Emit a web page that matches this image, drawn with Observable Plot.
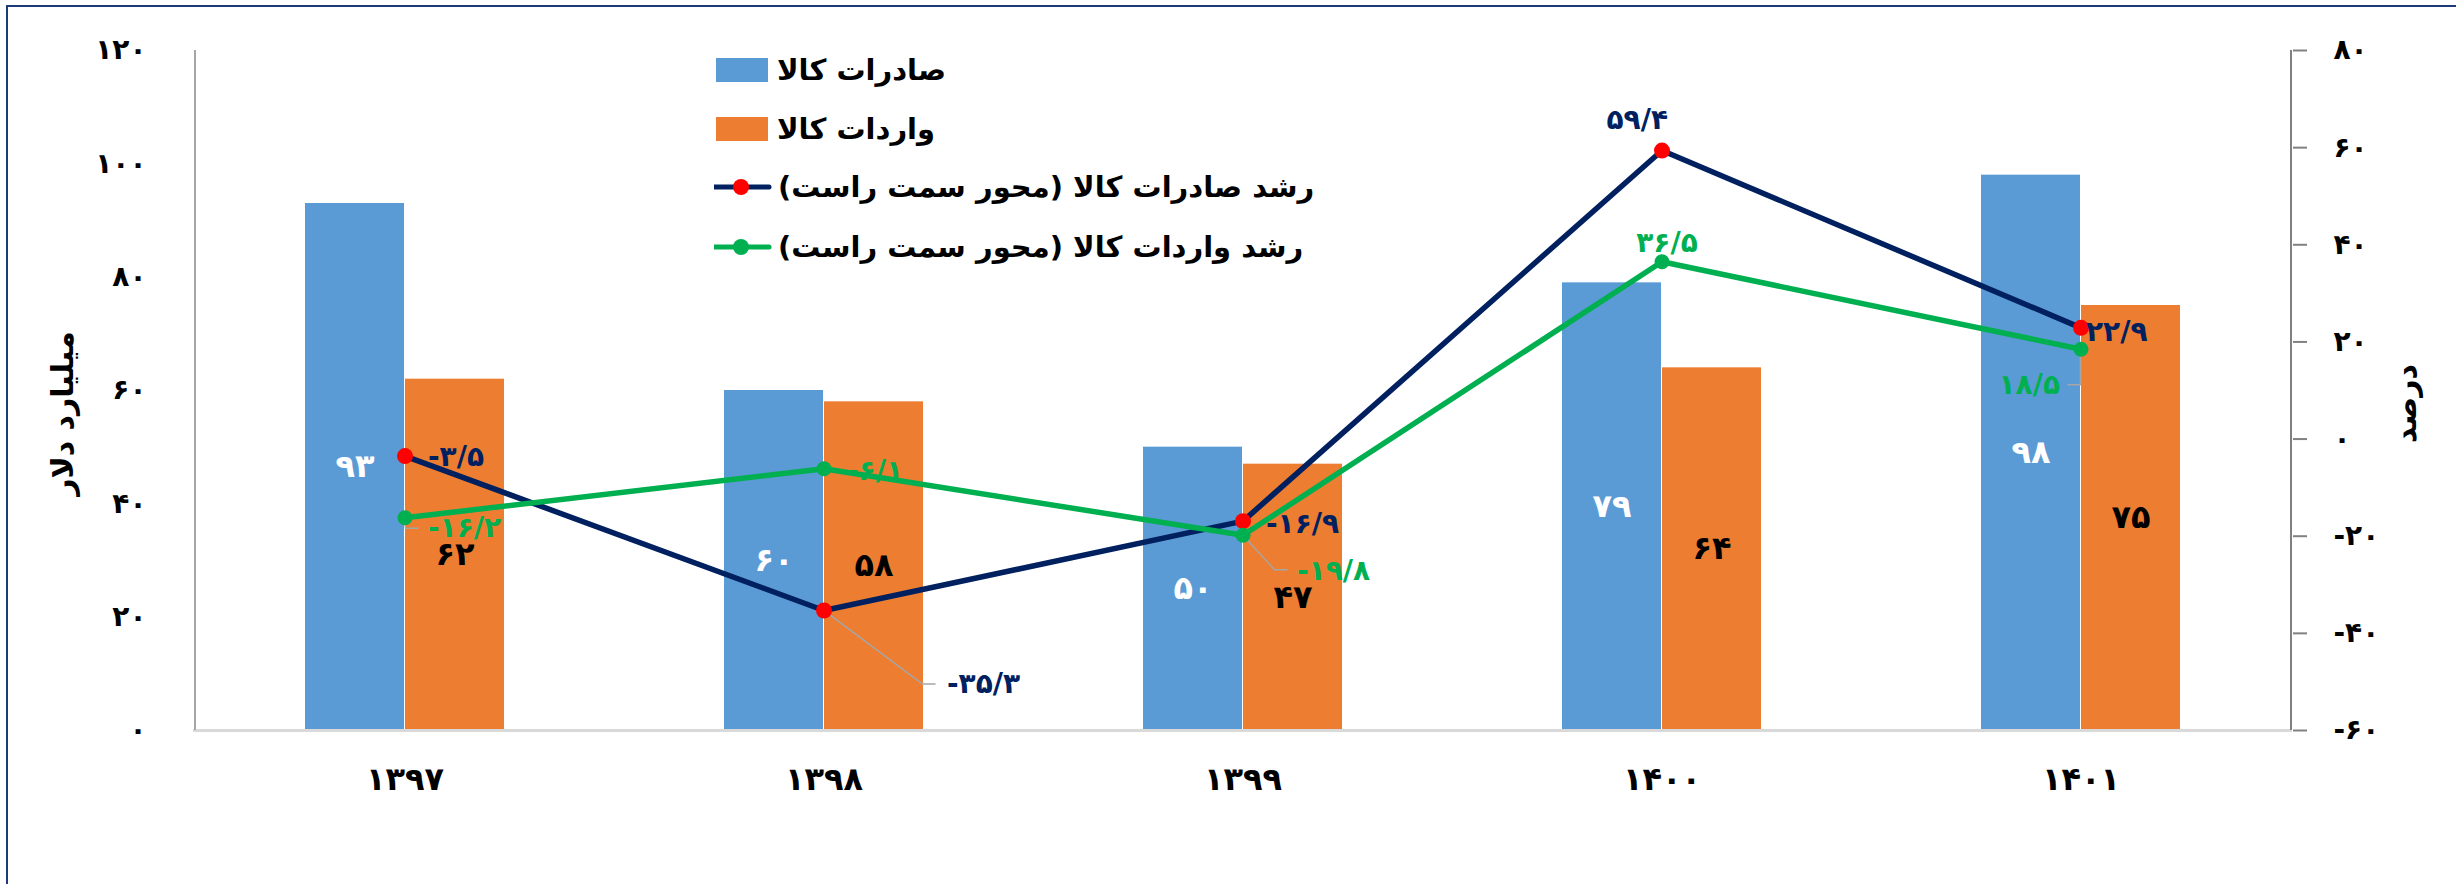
<!DOCTYPE html>
<html>
<head>
<meta charset="utf-8">
<script src="https://cdn.jsdelivr.net/npm/d3@7"></script>
<script src="https://cdn.jsdelivr.net/npm/@observablehq/plot@0.6"></script>
<style>
  html, body { margin: 0; padding: 0; background: #fff; }
  #wrap { position: relative; width: 2456px; height: 884px; overflow: hidden; font-family: "DejaVu Sans", sans-serif; }
  #frame { position: absolute; left: 6px; top: 5px; width: 2600px; height: 1000px; border: 2px solid #1f3a7a; box-sizing: border-box; pointer-events: none; }
  #chart { position: absolute; left: 0; top: 0; }
  .lg { position: absolute; display: flex; align-items: center; height: 40px; }
  .lg span { font-weight: bold; font-size: 29px; color: #000; white-space: nowrap; }
  g[aria-label="x-axis tick label"] text { letter-spacing: 3px; }
</style>
</head>
<body>
<div id="wrap">
  <div id="chart"></div>
  <div id="legend"></div>
  <div id="frame"></div>
</div>
<script>
// ---------- data ----------
const years = ["۱۳۹۷", "۱۳۹۸", "۱۳۹۹", "۱۴۰۰", "۱۴۰۱"];
const exportsValue = [93, 60, 50, 79, 98];          // میلیارد دلار
const importsValue = [62, 58, 47, 64, 75];          // میلیارد دلار
const exportGrowth = [-3.5, -35.3, -16.9, 59.4, 22.9]; // درصد
const importGrowth = [-16.2, -6.1, -19.8, 36.5, 18.5]; // درصد
const leftTicks = [0, 20, 40, 60, 80, 100, 120];
const rightTicks = [-60, -40, -20, 0, 20, 40, 60, 80];
const seriesNames = ["صادرات کالا", "واردات کالا", "رشد صادرات کالا (محور سمت راست)", "رشد واردات کالا (محور سمت راست)"];
const leftTitle = "میلیارد دلار";
const rightTitle = "درصد";

// ---------- styling ----------
const C = { exp: "#5B9BD5", imp: "#ED7D31", expLine: "#002060", expDot: "#FF0000", impLine: "#00B050", impDot: "#00B050" };
const toFa = s => String(s).replace(/\d/g, d => "۰۱۲۳۴۵۶۷۸۹"[d]).replace(".", "/");
// secondary axis mapping: [-60, 80] -> [0, 120]
const r2l = g => (g + 60) * 120 / 140;
const l2r = v => v * 140 / 120 - 60;

const rows = years.map((year, i) => ({ year, exp: exportsValue[i], imp: importsValue[i], eg: exportGrowth[i], ig: importGrowth[i] }));

// label placements (pixels relative to point)
const expLabelPos = [
  { dx: 23, dy: 1, anchor: "start" },
  { dx: 123, dy: 74, anchor: "start" },
  { dx: 23, dy: 3, anchor: "start" },
  { dx: 6, dy: -31, anchor: "end" },
  { dx: 5, dy: 4, anchor: "start" }
];
const impLabelPos = [
  { dx: 23, dy: 10, anchor: "start" },
  { dx: 23, dy: 2, anchor: "start" },
  { dx: 54, dy: 36, anchor: "start" },
  { dx: 5, dy: -19, anchor: "middle" },
  { dx: -21, dy: 36, anchor: "end" }
];
const leaderDefs = [
  { key: "ig", i: 0, path: [[0, 0], [1, 11], [14, 11]] },
  { key: "eg", i: 1, path: [[0, 0], [99, 74], [112, 74]] },
  { key: "ig", i: 2, path: [[0, 0], [32, 35], [45, 35]] },
  { key: "ig", i: 4, path: [[0, 0], [0, 36], [-13, 36]] }
];

const growthLabels = [];
rows.forEach((d, i) => {
  const pe = expLabelPos[i];
  growthLabels.push(Plot.text([d], { x: "year", y: r => r2l(r.eg), text: r => toFa(r.eg.toFixed(1)), dx: pe.dx, dy: pe.dy, textAnchor: pe.anchor, fill: C.expLine, fontSize: 28, fontWeight: "bold" }));
  const pi = impLabelPos[i];
  growthLabels.push(Plot.text([d], { x: "year", y: r => r2l(r.ig), text: r => toFa(r.ig.toFixed(1)), dx: pi.dx, dy: pi.dy, textAnchor: pi.anchor, fill: C.impLine, fontSize: 28, fontWeight: "bold" }));
});

const plot = Plot.plot({
  width: 2456,
  height: 884,
  marginLeft: 193,
  marginRight: 164,
  marginTop: 50,
  marginBottom: 154,
  style: { fontFamily: "DejaVu Sans", background: "transparent", color: "#000" },
  x: { domain: years, padding: 0, label: null },
  y: { domain: [0, 120], label: null },
  marks: [
    Plot.barY(rows, { x: "year", y: "exp", fill: C.exp, insetLeft: 110, insetRight: 210 }),
    Plot.barY(rows, { x: "year", y: "imp", fill: C.imp, insetLeft: 210, insetRight: 110 }),
    Plot.ruleY([0], { stroke: "#d9d9d9", strokeWidth: 3 }),
    Plot.ruleX([years[0]], { dx: -210, stroke: "#a6a6a6", strokeWidth: 2 }),
    Plot.ruleX([years[years.length - 1]], { dx: 210, stroke: "#808080", strokeWidth: 2 }),
    Plot.axisY(leftTicks, { anchor: "left", tickSize: 0, tickPadding: 47, tickFormat: v => toFa(v), fontSize: 28, fontWeight: "bold", label: null }),
    Plot.axisY(rightTicks.map(r2l), { anchor: "right", tickSize: 14, tickPadding: 27, stroke: "#808080", strokeWidth: 2, fill: "#000", tickFormat: v => toFa(Math.round(l2r(v))), fontSize: 28, fontWeight: "bold", label: null }),
    Plot.axisX({ tickSize: 0, tickPadding: 37, fontSize: 32, fontWeight: "bold", label: null }),
    Plot.text([leftTitle], { frameAnchor: "left", textAnchor: "middle", dx: -130, dy: 23, rotate: -90, fontSize: 30, fontWeight: "bold", fill: "#000" }),
    Plot.text([rightTitle], { frameAnchor: "right", textAnchor: "middle", dx: 114, dy: 13, rotate: -90, fontSize: 30, fontWeight: "bold", fill: "#000" }),
    Plot.line(rows, { x: "year", y: d => r2l(d.eg), stroke: C.expLine, strokeWidth: 5.5 }),
    Plot.dot(rows, { x: "year", y: d => r2l(d.eg), r: 8, fill: C.expDot }),
    Plot.line(rows, { x: "year", y: d => r2l(d.ig), stroke: C.impLine, strokeWidth: 5.5 }),
    Plot.dot(rows, { x: "year", y: d => r2l(d.ig), r: 7.5, fill: C.impDot }),
    Plot.text(rows, { x: "year", y: d => d.exp / 2, text: d => toFa(d.exp), dx: -50, fill: "#fff", fontSize: 32, fontWeight: "bold" }),
    Plot.text(rows, { x: "year", y: d => d.imp / 2, text: d => toFa(d.imp), dx: 50, fill: "#000", fontSize: 32, fontWeight: "bold" }),
    ...growthLabels
  ]
});
document.getElementById("chart").appendChild(plot);

// leader lines via the plot's own scales
const sx = plot.scale("x"), sy = plot.scale("y");
const svg = d3.select(plot);
const gLead = svg.append("g");
leaderDefs.forEach(L => {
  const d = rows[L.i];
  const px = sx.apply(d.year) + sx.bandwidth / 2;
  const py = sy.apply(r2l(d[L.key]));
  gLead.append("path")
    .attr("d", d3.line()(L.path.map(([a, b]) => [px + a, py + b])))
    .attr("fill", "none").attr("stroke", "#a6a6a6").attr("stroke-width", 1.5);
});
const firstDot = plot.querySelector("g[aria-label='dot']");
if (firstDot) plot.insertBefore(gLead.node(), firstDot);

// legend
const legend = document.getElementById("legend");
const items = [
  { type: "rect", color: C.exp, top: 50, name: seriesNames[0] },
  { type: "rect", color: C.imp, top: 109, name: seriesNames[1] },
  { type: "line", color: C.expLine, dot: C.expDot, top: 167, name: seriesNames[2] },
  { type: "line", color: C.impLine, dot: C.impDot, top: 227, name: seriesNames[3] }
];
items.forEach(it => {
  const div = document.createElement("div");
  div.className = "lg";
  div.style.left = "714px";
  div.style.top = it.top + "px";
  let sym;
  if (it.type === "rect") {
    sym = `<svg width="60" height="40"><rect x="2" y="8" width="52" height="24" fill="${it.color}"/></svg>`;
  } else {
    sym = `<svg width="60" height="40"><line x1="0" x2="55" y1="20" y2="20" stroke="${it.color}" stroke-width="5" stroke-linecap="round"/><circle cx="27" cy="20" r="8" fill="${it.dot}"/></svg>`;
  }
  div.innerHTML = sym + `<span dir="rtl" style="margin-left:${it.type === "rect" ? 3 : 4}px">${it.name}</span>`;
  legend.appendChild(div);
});
</script>
</body>
</html>
